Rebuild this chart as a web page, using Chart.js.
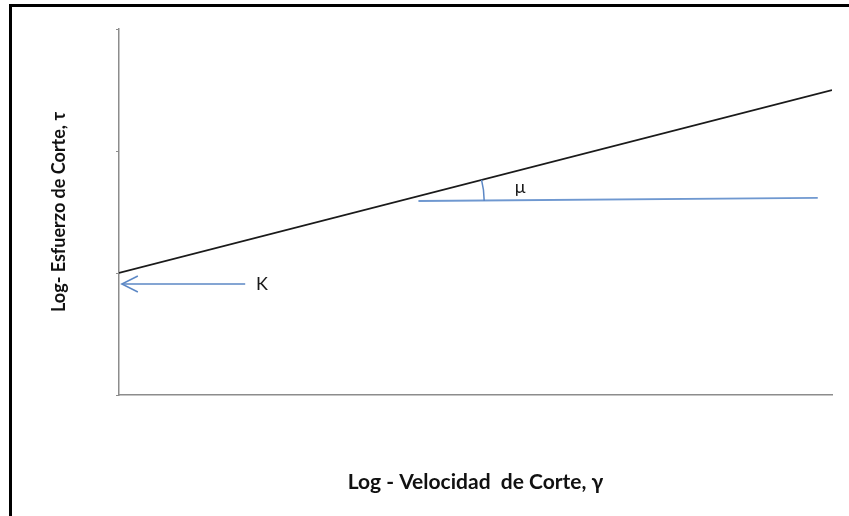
<!DOCTYPE html>
<html>
<head>
<meta charset="utf-8">
<script src="https://cdn.jsdelivr.net/npm/chart.js@4.4.0/dist/chart.umd.min.js"></script>
<style>
  body { margin: 0; background: #fff; }
  .wrap { position: relative; width: 849px; height: 516px; overflow: hidden; }
  .frame { position: absolute; left: 9px; top: 4px; width: 900px; height: 600px;
           border-left: 3px solid #000; border-top: 3px solid #000; pointer-events: none; }
  canvas { position: absolute; left: 0; top: 0; }
</style>
</head>
<body>
<div class="wrap">
  <canvas id="myChart" width="849" height="516"></canvas>
  <div class="frame"></div>
</div>
<script>
// ------ data (axis units) ------
var flowX = [0, 10];
var flowY = [1, 2.5];
var baseX = [4.2, 9.8];
var baseY = [1.59, 1.615];
var arrowX = [1.77, 0.04];
var arrowY = [0.91, 0.91];
var yTicks = [0, 1, 2, 3];

var angleCenter = { x: 3.93, y: 1.59 };
var labels = [
  { text: 'K', x: 1.92, y: 0.91 },
  { text: 'μ', x: 5.55, y: 1.70 }
];

function pts(xs, ys) {
  return xs.map(function (x, i) { return { x: x, y: ys[i] }; });
}

var extras = {
  id: 'extras',
  afterDatasetsDraw: function (chart) {
    var ctx = chart.ctx;
    var sx = chart.scales.x, sy = chart.scales.y;

    // arrow head at the end of the K arrow
    var tipX = sx.getPixelForValue(arrowX[1]);
    var tipY = sy.getPixelForValue(arrowY[1]);
    ctx.save();
    ctx.strokeStyle = '#5b87c5';
    ctx.lineWidth = 1.5;
    ctx.beginPath();
    ctx.moveTo(tipX + 16, tipY - 8);
    ctx.lineTo(tipX, tipY);
    ctx.lineTo(tipX + 16, tipY + 8);
    ctx.stroke();

    // angle arc between the two lines
    var cx = sx.getPixelForValue(angleCenter.x);
    var cy = sy.getPixelForValue(angleCenter.y);
    var dx = sx.getPixelForValue(flowX[1]) - sx.getPixelForValue(flowX[0]);
    var dy = sy.getPixelForValue(flowY[1]) - sy.getPixelForValue(flowY[0]);
    var ang = Math.atan2(dy, dx);
    ctx.beginPath();
    ctx.arc(cx, cy, 85, ang, 0);
    ctx.stroke();

    // labels
    ctx.fillStyle = '#1a1a1a';
    ctx.font = '18px Lato';
    ctx.textAlign = 'left';
    ctx.textBaseline = 'middle';
    labels.forEach(function (l) {
      ctx.fillText(l.text, sx.getPixelForValue(l.x), sy.getPixelForValue(l.y));
    });
    ctx.restore();
  }
};

var myChart = new Chart('myChart', {
  type: 'scatter',
  data: {
    datasets: [
      {
        data: pts(flowX, flowY),
        showLine: true,
        borderColor: '#1a1a1a',
        borderWidth: 1.8,
        pointRadius: 0
      },
      {
        data: pts(baseX, baseY),
        showLine: true,
        borderColor: '#6f98d0',
        borderWidth: 1.8,
        pointRadius: 0
      },
      {
        data: pts(arrowX, arrowY),
        showLine: true,
        borderColor: '#5b87c5',
        borderWidth: 1.5,
        pointRadius: 0
      }
    ]
  },
  options: {
    responsive: false,
    animation: false,
    layout: { padding: { left: 0, top: 29, right: 17, bottom: 0 } },
    plugins: { legend: { display: false }, tooltip: { enabled: false } },
    scales: {
      x: {
        type: 'linear',
        min: 0,
        max: 10,
        ticks: { display: false },
        grid: { display: false },
        border: { display: true, color: '#8c8c8c', width: 1.5 },
        title: {
          display: true,
          text: 'Log - Velocidad  de Corte, γ',
          color: '#111',
          font: { family: 'Lato', size: 21, weight: 'bold' },
          padding: { top: 0, bottom: 21 }
        },
        afterFit: function (s) { s.height = 121; }
      },
      y: {
        type: 'linear',
        min: 0,
        max: 3,
        afterBuildTicks: function (s) { s.ticks = yTicks.map(function (v) { return { value: v }; }); },
        ticks: { display: false },
        grid: { drawOnChartArea: false, drawTicks: true, tickLength: 3, color: '#8c8c8c' },
        border: { display: true, color: '#8c8c8c', width: 1.5 },
        title: {
          display: true,
          text: 'Log- Esfuerzo de Corte, τ',
          color: '#111',
          font: { family: 'Lato', size: 18, weight: 'bold' },
          padding: { top: 48, bottom: 0 }
        },
        afterFit: function (s) { s.width = 119; }
      }
    }
  },
  plugins: [extras]
});
</script>
</body>
</html>
